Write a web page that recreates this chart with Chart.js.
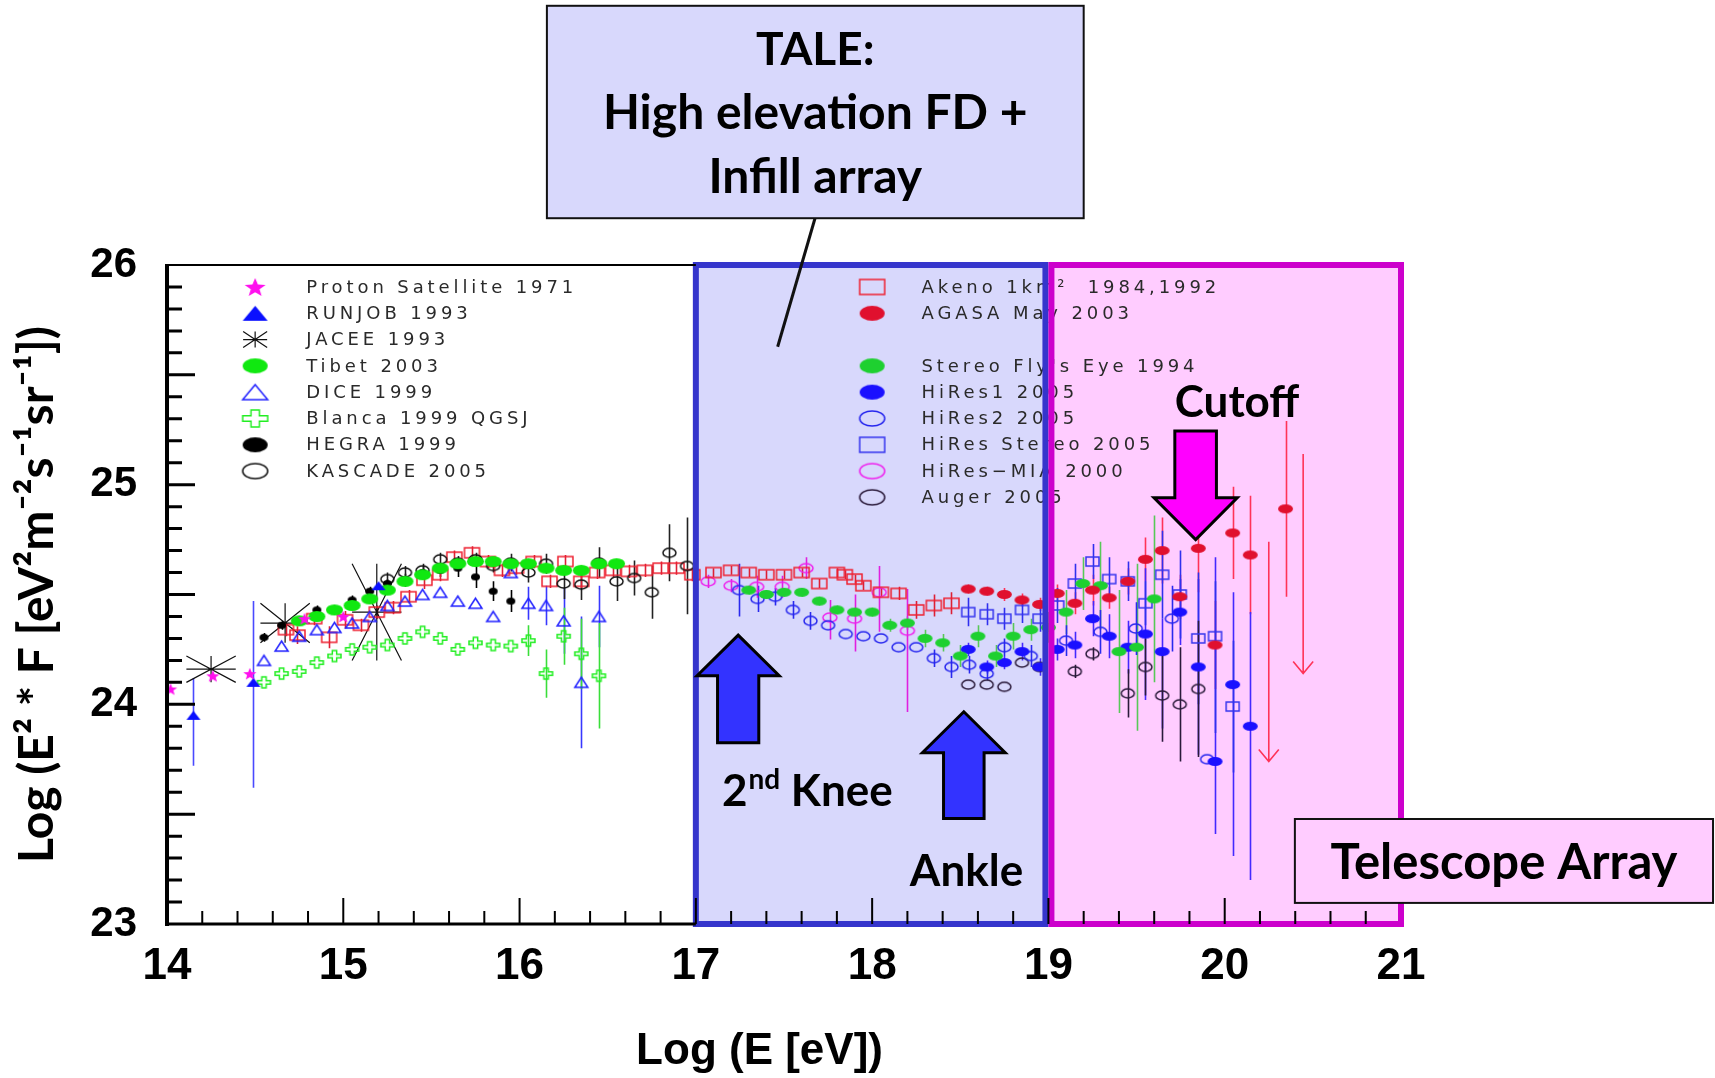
<!DOCTYPE html>
<html>
<head>
<meta charset="utf-8">
<script src="https://cdn.jsdelivr.net/npm/chart.js@4.4.0/dist/chart.umd.min.js"></script>
<style>
  html, body { margin: 0; padding: 0; background: #fff; }
  #c { display: block; }
</style>
</head>
<body>
<canvas id="c" width="1715" height="1078" style="width:1715px;height:1078px"></canvas>
<script>
// ---- axis ranges / tick labels ----
const xRange = [14, 21];
const yRange = [23, 26];
const xTickLabels = [14, 15, 16, 17, 18, 19, 20, 21];
const yTickLabels = [23, 24, 25, 26];

// ---- data (log10 E [eV], log10 E^2 F) ----
const protonX = [14.02, 14.26, 14.47, 14.78, 15.00];
const protonY = [24.07, 24.13, 24.14, 24.39, 24.40];

const runjobX = [14.15, 14.49, 15.20];
const runjobY = [23.95, 24.10, 24.54];
const runjobErr = [[0.23, 0.17], [0.48, 0.37], 0];

const jaceeX = [14.25, 14.67, 15.19];
const jaceeY = [24.16, 24.37, 24.42];
const jaceeXErr = [0.14, 0.14, 0.14];
const jaceeYErr = [0.06, 0.09, 0.22];

const tibetX = [14.75, 14.85, 14.95, 15.05, 15.15, 15.25, 15.35, 15.45, 15.55, 15.65, 15.75, 15.85, 15.95, 16.05, 16.15, 16.25, 16.35, 16.45, 16.55];
const tibetY = [24.38, 24.40, 24.43, 24.45, 24.48, 24.52, 24.56, 24.59, 24.62, 24.64, 24.65, 24.65, 24.64, 24.64, 24.62, 24.61, 24.61, 24.64, 24.64];

const diceX = [14.55, 14.65, 14.75, 14.85, 14.95, 15.05, 15.15, 15.25, 15.35, 15.45, 15.55, 15.65, 15.75, 15.85, 15.95, 16.05, 16.15, 16.25, 16.35, 16.45];
const diceY = [24.20, 24.265, 24.31, 24.34, 24.35, 24.37, 24.40, 24.45, 24.47, 24.50, 24.51, 24.47, 24.46, 24.40, 24.60, 24.46, 24.45, 24.38, 24.10, 24.40];
const diceErr = [0, 0, 0, 0, 0, 0, 0, 0, 0, 0, 0, 0, 0, 0, 0, 0.075, 0.09, 0.15, 0.30, 0.14];

const blancaX = [14.55, 14.65, 14.75, 14.85, 14.95, 15.05, 15.15, 15.25, 15.35, 15.45, 15.55, 15.65, 15.75, 15.85, 15.95, 16.05, 16.15, 16.25, 16.35, 16.45];
const blancaY = [24.10, 24.14, 24.15, 24.19, 24.22, 24.25, 24.26, 24.27, 24.30, 24.33, 24.30, 24.25, 24.28, 24.27, 24.265, 24.29, 24.14, 24.31, 24.23, 24.13];
const blancaErr = [0, 0, 0, 0, 0, 0, 0, 0, 0, 0, 0, 0, 0, 0, 0, 0.07, 0.11, 0.13, 0.16, 0.24];

const hegraX = [14.55, 14.65, 14.75, 14.85, 14.95, 15.05, 15.15, 15.25, 15.35, 15.45, 15.55, 15.65, 15.75, 15.85, 15.95];
const hegraY = [24.305, 24.36, 24.38, 24.43, 24.43, 24.475, 24.515, 24.55, 24.565, 24.60, 24.61, 24.62, 24.58, 24.515, 24.47];
const hegraErr = [0.02, 0.02, 0.02, 0.02, 0.02, 0.02, 0.02, 0.02, 0.03, 0.03, 0.03, 0.04, 0.05, 0.045, 0.05];

const kascadeX = [15.25, 15.35, 15.45, 15.55, 15.65, 15.75, 15.85, 15.95, 16.05, 16.15, 16.25, 16.35, 16.45, 16.55, 16.65, 16.75, 16.85, 16.95];
const kascadeY = [24.57, 24.60, 24.61, 24.66, 24.645, 24.66, 24.63, 24.645, 24.60, 24.64, 24.55, 24.545, 24.645, 24.56, 24.575, 24.51, 24.69, 24.63];
const kascadeErr = [0.03, 0.03, 0.03, 0.03, 0.03, 0.03, 0.03, 0.04, 0.045, 0.045, 0.07, 0.07, 0.07, 0.09, 0.08, 0.12, 0.13, 0.22];

const akenoX = [14.675, 14.74, 14.835, 14.92, 15.01, 15.10, 15.19, 15.28, 15.37, 15.46, 15.55, 15.63, 15.73, 15.82, 15.90, 15.98, 16.08, 16.17, 16.26, 16.35, 16.44, 16.53, 16.62, 16.71, 16.80, 16.89, 16.98, 17.10, 17.20, 17.30, 17.40, 17.50, 17.60, 17.70, 17.80, 17.845, 17.90, 17.95, 18.05, 18.15, 18.25, 18.35, 18.45];
const akenoY = [24.34, 24.315, 24.39, 24.305, 24.385, 24.36, 24.42, 24.44, 24.49, 24.565, 24.59, 24.67, 24.69, 24.65, 24.61, 24.62, 24.65, 24.56, 24.65, 24.56, 24.60, 24.61, 24.605, 24.61, 24.62, 24.62, 24.59, 24.60, 24.61, 24.60, 24.59, 24.59, 24.60, 24.55, 24.60, 24.59, 24.57, 24.54, 24.51, 24.505, 24.43, 24.45, 24.46];
const akenoErr = [0.03, 0.04, 0.03, 0.05, 0.04, 0.03, 0.03, 0.03, 0.03, 0.04, 0.03, 0.03, 0.03, 0.03, 0.03, 0.03, 0.03, 0.03, 0.03, 0.03, 0.03, 0.03, 0.03, 0.03, 0.03, 0.03, 0.03, 0.02, 0.02, 0.02, 0.02, 0.02, 0.02, 0.02, 0.02, 0.02, 0.02, 0.02, 0.02, 0.03, 0.04, 0.05, 0.05];

const agasaX = [18.545, 18.65, 18.75, 18.85, 18.95, 19.05, 19.15, 19.25, 19.345, 19.45, 19.55, 19.645, 19.745, 19.85, 19.945, 20.045, 20.145, 20.345];
const agasaY = [24.525, 24.515, 24.50, 24.475, 24.455, 24.505, 24.46, 24.52, 24.485, 24.56, 24.66, 24.70, 24.49, 24.71, 24.27, 24.78, 24.68, 24.89];
const agasaErr = [0.02, 0.02, 0.03, 0.03, 0.03, 0.04, 0.05, 0.07, 0.05, 0.06, 0.10, 0.15, 0.10, 0.20, 0.20, 0.21, 0.27, 0.40];
const agasaLimitX = [20.25, 20.445];
const agasaLimitY = [24.74, 25.14];

const flysEyeX = [17.30, 17.40, 17.50, 17.60, 17.70, 17.80, 17.90, 18.00, 18.10, 18.20, 18.30, 18.40, 18.50, 18.60, 18.70, 18.80, 18.90, 19.00, 19.10, 19.195, 19.295, 19.40, 19.50, 19.60];
const flysEyeY = [24.52, 24.50, 24.51, 24.51, 24.47, 24.43, 24.42, 24.42, 24.36, 24.37, 24.30, 24.28, 24.22, 24.31, 24.22, 24.31, 24.34, 24.35, 24.42, 24.55, 24.54, 24.24, 24.26, 24.48];
const flysEyeErr = [0.02, 0.02, 0.02, 0.02, 0.02, 0.02, 0.02, 0.02, 0.03, 0.03, 0.04, 0.04, 0.05, 0.05, 0.05, 0.06, 0.05, 0.07, 0.10, 0.12, 0.20, 0.28, 0.38, 0.38];

const hires1X = [18.545, 18.65, 18.75, 18.85, 18.95, 19.05, 19.15, 19.25, 19.345, 19.45, 19.55, 19.645, 19.745, 19.85, 19.945, 20.045, 20.145];
const hires1Y = [24.25, 24.17, 24.19, 24.24, 24.17, 24.25, 24.27, 24.39, 24.31, 24.26, 24.32, 24.24, 24.42, 24.17, 23.74, 24.09, 23.90];
const hires1Err = [0.03, 0.03, 0.03, 0.04, 0.04, 0.05, 0.06, 0.08, 0.10, 0.12, 0.30, [0.35, 0.15], 0.15, 0.40, [0.33, 0.93], [0.78, 0.42], [0.70, 0.52]];

const hires2X = [17.245, 17.35, 17.45, 17.55, 17.65, 17.75, 17.85, 17.95, 18.05, 18.15, 18.25, 18.35, 18.45, 18.55, 18.65, 18.75, 18.90, 19.10, 19.295, 19.495, 19.70, 19.90];
const hires2Y = [24.52, 24.48, 24.49, 24.43, 24.38, 24.36, 24.32, 24.31, 24.30, 24.26, 24.26, 24.21, 24.17, 24.18, 24.14, 24.26, 24.22, 24.29, 24.33, 24.345, 24.39, 23.75];
const hires2Err = [0.12, 0.06, 0.04, 0.04, 0.04, 0, 0, 0, 0, 0, 0, 0.04, 0.05, 0.04, 0.03, 0.04, 0.05, 0.07, 0.10, 0.12, 0.15, 0];

const stereoX = [18.545, 18.65, 18.75, 18.85, 18.95, 19.05, 19.15, 19.25, 19.345, 19.45, 19.55, 19.645, 19.745, 19.85, 19.945, 20.045];
const stereoY = [24.42, 24.41, 24.39, 24.43, 24.39, 24.45, 24.55, 24.65, 24.57, 24.56, 24.46, 24.59, 24.50, 24.30, 24.31, 23.99];
const stereoErr = [0.065, 0.05, 0.05, 0.06, 0.06, 0.08, 0.09, 0.08, 0.10, 0.09, 0.10, 0.20, 0.20, 0.30, [0.44, 0.25], 0.30];

const miaX = [17.07, 17.20, 17.345, 17.49, 17.625, 17.76, 17.90, 18.04, 18.20];
const miaY = [24.56, 24.54, 24.535, 24.535, 24.62, 24.395, 24.39, 24.51, 24.335];
const miaErr = [0.03, 0.03, 0.05, 0.05, 0.05, [0.10, 0.08], [0.15, 0.11], [0.18, 0.12], [0.37, 0.19]];

const augerX = [18.545, 18.65, 18.75, 18.85, 18.95, 19.15, 19.25, 19.45, 19.55, 19.645, 19.745, 19.85];
const augerY = [24.09, 24.09, 24.08, 24.19, 24.17, 24.15, 24.23, 24.05, 24.17, 24.04, 24.00, 24.07];
const augerErr = [0, 0, 0, 0, 0, 0.03, 0.03, 0.11, 0.13, 0.21, 0.26, 0.31];

// ---- series: data + look ----
const series = [
  {label: 'Proton Satellite 1971', x: protonX, y: protonY, kind: 'star', color: '#ff10ee', w: 14, h: 13, col: 0, row: 0},
  {label: 'RUNJOB 1993', x: runjobX, y: runjobY, err: runjobErr, kind: 'tri', color: '#0a10ff', errColor: '#4a4aff', w: 14, h: 9, col: 0, row: 1},
  {label: 'JACEE 1993', x: jaceeX, y: jaceeY, kind: 'jacee', color: '#111', col: 0, row: 2},
  {label: 'Tibet 2003', x: tibetX, y: tibetY, kind: 'dot', color: '#10e810', w: 17, h: 11, col: 0, row: 3},
  {label: 'DICE 1999', x: diceX, y: diceY, err: diceErr, kind: 'triOpen', color: '#2020ff', errColor: '#3838ff', w: 13, h: 10, col: 0, row: 4},
  {label: 'Blanca 1999 QGSJ', x: blancaX, y: blancaY, err: blancaErr, kind: 'plus', color: '#22ee22', errColor: '#3ade3a', w: 13, h: 11, col: 0, row: 5},
  {label: 'HEGRA 1999', x: hegraX, y: hegraY, err: hegraErr, kind: 'dot', color: '#000', errColor: '#000', w: 9, h: 7, col: 0, row: 6},
  {label: 'KASCADE 2005', x: kascadeX, y: kascadeY, err: kascadeErr, kind: 'ring', color: '#111', errColor: '#222', w: 13, h: 9, col: 0, row: 7},
  {label: 'Akeno 1km²  1984,1992', x: akenoX, y: akenoY, err: akenoErr, kind: 'box', color: '#ee2030', errColor: '#dd2035', w: 15, h: 10, col: 1, row: 0},
  {label: 'AGASA May 2003', x: agasaX, y: agasaY, err: agasaErr, kind: 'dot', color: '#e0102e', errColor: '#ff3358', w: 15, h: 9, col: 1, row: 1},
  {label: 'Stereo Fly\'s Eye 1994', x: flysEyeX, y: flysEyeY, err: flysEyeErr, kind: 'dot', color: '#1ed030', errColor: '#58c858', w: 15, h: 9, col: 1, row: 3},
  {label: 'HiRes1 2005', x: hires1X, y: hires1Y, err: hires1Err, kind: 'dot', color: '#1a10ff', errColor: '#4428ff', w: 15, h: 9, col: 1, row: 4},
  {label: 'HiRes2 2005', x: hires2X, y: hires2Y, err: hires2Err, kind: 'ring', color: '#2626ee', errColor: '#2a2aee', w: 13, h: 9, col: 1, row: 5},
  {label: 'HiRes Stereo 2005', x: stereoX, y: stereoY, err: stereoErr, kind: 'box', color: '#3434ee', errColor: '#3030ee', w: 13, h: 9, col: 1, row: 6},
  {label: 'HiRes\u2212MIA 2000', x: miaX, y: miaY, err: miaErr, kind: 'ring', color: '#ee22ee', errColor: '#e020e0', w: 14, h: 9, col: 1, row: 7},
  {label: 'Auger 2005', x: augerX, y: augerY, err: augerErr, kind: 'ring', color: '#2a1a3a', errColor: '#2a1a3a', w: 13, h: 9, col: 1, row: 8}
];

// ---- annotation layout (data coordinates) ----
const regions = [
  {from: 17, to: 19, fill: '#d8d8fc', stroke: '#3535cc'},
  {from: 19, to: 21, fill: '#ffccff', stroke: '#cc00cc'}
];
const arrows = [
  {x: 17.24, tip: 24.315, headBase: 24.13, tail: 23.825, head: 0.233, shaft: 0.117, fill: '#3333ff'},
  {x: 18.52, tip: 23.966, headBase: 23.78, tail: 23.48, head: 0.235, shaft: 0.115, fill: '#3333ff'},
  {x: 19.835, tip: 24.75, headBase: 24.94, tail: 25.244, head: 0.236, shaft: 0.118, fill: '#ff00ff'}
];
const legendAnchor = {left: [14.5, 14.79], right: [18.0, 18.28], top: 25.90};

function markerCanvas(kind, w, h, color) {
  const pad = 3;
  const c = document.createElement('canvas');
  c.width = Math.ceil(w) + pad * 2;
  c.height = Math.ceil(h) + pad * 2;
  const g = c.getContext('2d');
  g.translate(c.width / 2, c.height / 2);
  const rx = w / 2, ry = h / 2;
  g.lineWidth = 1.5;
  g.strokeStyle = color;
  g.fillStyle = color;
  g.beginPath();
  if (kind === 'dot' || kind === 'ring') {
    g.ellipse(0, 0, rx, ry, 0, 0, Math.PI * 2);
  } else if (kind === 'box') {
    g.rect(-rx, -ry, w, h);
  } else if (kind === 'tri' || kind === 'triOpen') {
    g.moveTo(0, -ry); g.lineTo(rx, ry); g.lineTo(-rx, ry); g.closePath();
  } else if (kind === 'star') {
    for (let i = 0; i < 10; i++) {
      const r = i % 2 ? 0.42 : 1;
      const a = -Math.PI / 2 + i * Math.PI / 5;
      g.lineTo(r * rx * Math.cos(a), r * ry * Math.sin(a) + ry * 0.1);
    }
    g.closePath();
  } else if (kind === 'plus') {
    const tx = rx / 3, ty = ry / 3;
    g.moveTo(-tx, -ry); g.lineTo(tx, -ry); g.lineTo(tx, -ty); g.lineTo(rx, -ty); g.lineTo(rx, ty);
    g.lineTo(tx, ty); g.lineTo(tx, ry); g.lineTo(-tx, ry); g.lineTo(-tx, ty); g.lineTo(-rx, ty);
    g.lineTo(-rx, -ty); g.lineTo(-tx, -ty); g.closePath();
  }
  if (kind === 'dot' || kind === 'tri' || kind === 'star') g.fill(); else g.stroke();
  return c;
}

function errPair(e, i) {
  if (!e) return [0, 0];
  const v = e[i];
  if (Array.isArray(v)) return v;
  return [v || 0, v || 0];
}

function drawJacee(ctx, px, py, hx, hy) {
  ctx.beginPath();
  ctx.moveTo(px - hx, py); ctx.lineTo(px + hx, py);
  ctx.moveTo(px, py - hy); ctx.lineTo(px, py + hy);
  ctx.moveTo(px - hx, py - hy); ctx.lineTo(px + hx, py + hy);
  ctx.moveTo(px - hx, py + hy); ctx.lineTo(px + hx, py - hy);
  ctx.stroke();
}

const deco = {
  id: 'deco',
  beforeDatasetsDraw(chart) {
    const {ctx, chartArea: a, scales: {x, y}} = chart;
    ctx.save();
    regions.forEach(r => {
      const x0 = x.getPixelForValue(r.from), x1 = x.getPixelForValue(r.to);
      ctx.fillStyle = r.fill;
      ctx.fillRect(x0, a.top, x1 - x0, a.bottom - a.top);
    });

    ctx.beginPath();
    ctx.rect(a.left, a.top, a.right - a.left, a.bottom - a.top);
    ctx.clip();

    // error bars
    ctx.lineWidth = 1.6;
    series.forEach(s => {
      if (!s.err) return;
      ctx.strokeStyle = s.errColor || s.color;
      ctx.beginPath();
      s.x.forEach((xv, i) => {
        const [lo, hi] = errPair(s.err, i);
        if (!lo && !hi) return;
        const px = Math.round(x.getPixelForValue(xv)) + 0.5;
        ctx.moveTo(px, y.getPixelForValue(s.y[i] - lo));
        ctx.lineTo(px, y.getPixelForValue(s.y[i] + hi));
      });
      ctx.stroke();
    });

    // JACEE asterisks (x and y error box)
    ctx.strokeStyle = '#111';
    ctx.lineWidth = 1.2;
    jaceeX.forEach((xv, i) => {
      const px = x.getPixelForValue(xv), py = y.getPixelForValue(jaceeY[i]);
      const hx = x.getPixelForValue(xv + jaceeXErr[i]) - px;
      const hy = py - y.getPixelForValue(jaceeY[i] + jaceeYErr[i]);
      drawJacee(ctx, px, py, hx, hy);
    });

    // AGASA upper limits
    ctx.strokeStyle = '#ff3358';
    ctx.lineWidth = 1.6;
    agasaLimitX.forEach((xv, i) => {
      const px = x.getPixelForValue(xv);
      const top = y.getPixelForValue(agasaLimitY[i]);
      const bot = y.getPixelForValue(agasaLimitY[i] - 1.0);
      ctx.beginPath();
      ctx.moveTo(px, top); ctx.lineTo(px, bot);
      ctx.moveTo(px - 10, bot - 12); ctx.lineTo(px, bot); ctx.lineTo(px + 10, bot - 12);
      ctx.stroke();
    });
    ctx.restore();
  },
  afterDatasetsDraw(chart) {
    const {ctx, chartArea: a, scales: {x, y}} = chart;
    ctx.save();

    // legend
    const rowStep = 26.3;
    const top = y.getPixelForValue(legendAnchor.top);
    ctx.font = '18px "DejaVu Sans"';
    ctx.letterSpacing = '3.9px';
    ctx.fillStyle = '#2a2a2a';
    ctx.textBaseline = 'middle';
    ctx.textAlign = 'left';
    series.forEach(s => {
      const anchor = s.col === 0 ? legendAnchor.left : legendAnchor.right;
      const mx = x.getPixelForValue(anchor[0]);
      const tx = x.getPixelForValue(anchor[1]);
      const py = top + s.row * rowStep;
      if (s.kind === 'jacee') {
        ctx.strokeStyle = '#111';
        ctx.lineWidth = 1.2;
        drawJacee(ctx, mx, py, 12, 8);
      } else {
        const lw = s.kind === 'star' ? 22 : 25;
        const lh = s.kind === 'star' ? 20 : (s.kind === 'plus' ? 17 : 15);
        const img = markerCanvas(s.kind, lw, lh, s.color);
        ctx.drawImage(img, mx - img.width / 2, py - img.height / 2);
      }
      ctx.fillText(s.label, tx, py + 1);
    });
    ctx.letterSpacing = '0px';

    // region borders
    ctx.lineWidth = 6;
    regions.forEach((r, k) => {
      let x0 = x.getPixelForValue(r.from), x1 = x.getPixelForValue(r.to);
      if (k === 0) x1 -= 3; else x0 += 3;
      ctx.strokeStyle = r.stroke;
      ctx.strokeRect(x0, a.top, x1 - x0, a.bottom - a.top);
    });

    // frame
    ctx.strokeStyle = '#000';
    ctx.lineWidth = 2;
    ctx.beginPath();
    ctx.moveTo(a.left, a.top); ctx.lineTo(x.getPixelForValue(17), a.top);
    ctx.stroke();
    ctx.lineWidth = 4;
    ctx.beginPath();
    ctx.moveTo(a.left, a.top - 1); ctx.lineTo(a.left, a.bottom + 2);
    ctx.stroke();
    ctx.lineWidth = 3;
    ctx.beginPath();
    ctx.moveTo(a.left, a.bottom); ctx.lineTo(x.getPixelForValue(17), a.bottom);
    ctx.stroke();

    // inward tick marks
    ctx.lineWidth = 3;
    ctx.beginPath();
    for (let k = 1; k < 30; k++) {
      const py = y.getPixelForValue(yRange[0] + k / 10);
      const len = k % 5 === 0 ? 28 : 15;
      ctx.moveTo(a.left, py); ctx.lineTo(a.left + len, py);
    }
    ctx.stroke();
    ctx.lineWidth = 2;
    ctx.beginPath();
    for (let k = 1; k < 35; k++) {
      const px = x.getPixelForValue(xRange[0] + k * 0.2);
      const len = k % 5 === 0 ? 26 : 13;
      ctx.moveTo(px, a.bottom); ctx.lineTo(px, a.bottom - len);
    }
    ctx.stroke();

    // arrows
    arrows.forEach(ar => {
      const X = v => x.getPixelForValue(v), Y = v => y.getPixelForValue(v);
      ctx.beginPath();
      ctx.moveTo(X(ar.x), Y(ar.tip));
      ctx.lineTo(X(ar.x + ar.head), Y(ar.headBase));
      ctx.lineTo(X(ar.x + ar.shaft), Y(ar.headBase));
      ctx.lineTo(X(ar.x + ar.shaft), Y(ar.tail));
      ctx.lineTo(X(ar.x - ar.shaft), Y(ar.tail));
      ctx.lineTo(X(ar.x - ar.shaft), Y(ar.headBase));
      ctx.lineTo(X(ar.x - ar.head), Y(ar.headBase));
      ctx.closePath();
      ctx.fillStyle = ar.fill;
      ctx.fill();
      ctx.lineWidth = 3;
      ctx.strokeStyle = '#000';
      ctx.stroke();
    });

    // labels
    const bold = s => 'bold ' + s + 'px Lato, "Open Sans", sans-serif';
    ctx.fillStyle = '#000';
    ctx.textBaseline = 'alphabetic';
    ctx.font = bold(44);
    ctx.textAlign = 'center';
    ctx.fillText('Cutoff', x.getPixelForValue(20.07), y.getPixelForValue(25.31));
    ctx.textAlign = 'left';
    ctx.fillText('Ankle', x.getPixelForValue(18.214), y.getPixelForValue(23.173));
    let kx = x.getPixelForValue(17.148);
    const ky = y.getPixelForValue(23.537);
    ctx.fillText('2', kx, ky);
    kx += ctx.measureText('2').width + 1;
    ctx.font = bold(28);
    ctx.fillText('nd', kx, ky - 17);
    kx += ctx.measureText('nd').width;
    ctx.font = bold(44);
    ctx.fillText(' Knee', kx, ky);

    // TALE box + pointer
    const bx0 = x.getPixelForValue(16.155), bx1 = x.getPixelForValue(19.20);
    const by0 = y.getPixelForValue(27.18), by1 = y.getPixelForValue(26.213);
    ctx.lineWidth = 3;
    ctx.strokeStyle = '#111';
    ctx.beginPath();
    ctx.moveTo(x.getPixelForValue(17.676), by1);
    ctx.lineTo(x.getPixelForValue(17.464), y.getPixelForValue(25.628));
    ctx.stroke();
    ctx.fillStyle = '#d8d8fc';
    ctx.fillRect(bx0, by0, bx1 - bx0, by1 - by0);
    ctx.lineWidth = 2;
    ctx.strokeRect(bx0, by0, bx1 - bx0, by1 - by0);
    ctx.fillStyle = '#000';
    ctx.textAlign = 'center';
    const cx = (bx0 + bx1) / 2;
    ctx.font = bold(46);
    ctx.fillText('TALE:', cx, y.getPixelForValue(26.91));
    ctx.font = bold(48);
    ctx.fillText('High elevation FD +', cx, y.getPixelForValue(26.62));
    ctx.fillText('Infill array', cx, y.getPixelForValue(26.327));

    // Telescope Array box
    const tx0 = x.getPixelForValue(20.398), tx1 = x.getPixelForValue(22.77);
    const ty0 = y.getPixelForValue(23.478), ty1 = y.getPixelForValue(23.096);
    ctx.fillStyle = '#ffccff';
    ctx.fillRect(tx0, ty0, tx1 - tx0, ty1 - ty0);
    ctx.strokeRect(tx0, ty0, tx1 - tx0, ty1 - ty0);
    ctx.fillStyle = '#000';
    ctx.font = bold(49);
    ctx.fillText('Telescope Array', (tx0 + tx1) / 2, y.getPixelForValue(23.205));
    ctx.restore();
  }
};

const datasets = series.map(s => ({
  label: s.label,
  data: s.x.map((v, i) => ({x: v, y: s.y[i]})),
  pointStyle: s.kind === 'jacee' ? 'circle' : markerCanvas(s.kind, s.w, s.h, s.color),
  pointRadius: s.kind === 'jacee' ? 0 : 6,
  showLine: false
}));

const narrow = '"Liberation Sans Narrow", "Arial Narrow", "Liberation Sans", Arial, sans-serif';

new Chart(document.getElementById('c').getContext('2d'), {
  type: 'scatter',
  data: {datasets},
  options: {
    responsive: false,
    animation: false,
    devicePixelRatio: 1,
    events: [],
    layout: {padding: {left: 0, top: 265, right: 314, bottom: 0}},
    plugins: {legend: {display: false}, tooltip: {enabled: false}},
    scales: {
      x: {
        type: 'linear', min: xRange[0], max: xRange[1],
        afterFit: s => { s.height = 154; },
        afterBuildTicks: s => { s.ticks = xTickLabels.map(v => ({value: v})); },
        grid: {display: false, drawTicks: false},
        border: {display: false},
        ticks: {padding: 16, color: '#000', autoSkip: false, maxRotation: 0,
                font: {family: narrow, size: 44, weight: 'bold'}},
        title: {display: true, text: 'Log (E [eV])' + '\u00a0'.repeat(4), color: '#000',
                padding: {top: 0, bottom: 0}, font: {family: narrow, size: 44, weight: 'bold'}}
      },
      y: {
        type: 'linear', min: yRange[0], max: yRange[1],
        afterFit: s => { s.width = 167; },
        afterBuildTicks: s => { s.ticks = yTickLabels.map(v => ({value: v})); },
        grid: {display: false, drawTicks: false},
        border: {display: false},
        ticks: {padding: 30, color: '#000',
                font: {family: '"Liberation Sans", Arial, sans-serif', size: 42, weight: 'bold'}},
        title: {display: true, text: 'Log (E² * F [eV²m⁻²s⁻¹sr⁻¹])', color: '#000',
                padding: {top: 9, bottom: 0}, font: {family: 'Lato, "Open Sans", sans-serif', size: 48, weight: 'bold'}}
      }
    }
  },
  plugins: [deco]
});
</script>
</body>
</html>
